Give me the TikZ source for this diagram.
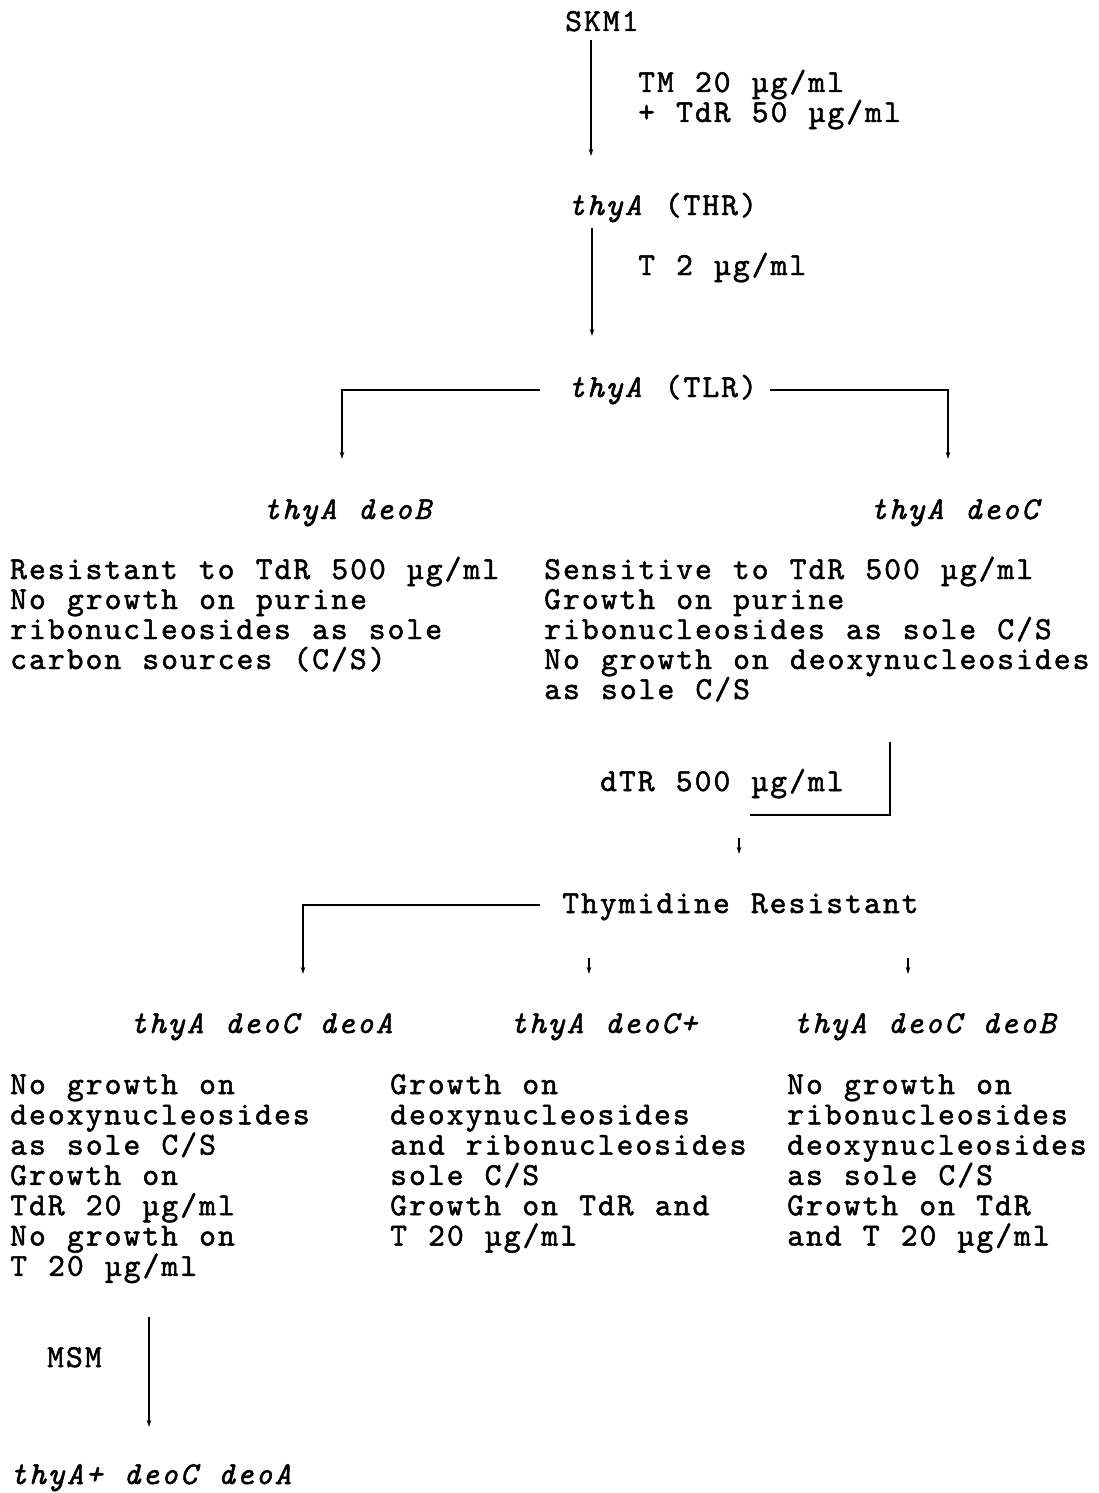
\documentclass[tikz,border=0pt]{standalone}
\usepackage{fontspec}
\usetikzlibrary{arrows.meta}
\newfontfamily\twfam{lmmono10-regular.otf}[ItalicFont=lmmono10-italic.otf,LetterSpace=6.4,WordSpace=1.122,FakeBold=1.5]
\newcommand\tw{\twfam\fontsize{32}{30}\selectfont}
\newcommand\stk[2][30]{\vtop{\baselineskip=#1pt\lineskiplimit=-100pt\lineskip=0pt\halign{##\hfil\cr#2\crcr}}}
\begin{document}
\begin{tikzpicture}[x=1pt,y=-1pt,
  txt/.style={anchor=base west,inner sep=0pt,font=\tw},
  conn/.style={line width=1.6pt,line cap=butt},
  arr/.style={conn,-{Stealth[length=7pt,width=4.5pt]}}]
\useasboundingbox[fill=white] (0,0) rectangle (1099,1493);
% texts
\node[txt] (skm) at (565,31) {SKM1};
\node[txt] (c1) at (638,92) {\stk{TM 20 µg/ml\cr + TdR 50 µg/ml}};
\node[txt] (thr) at (568,215) {\textit{thyA} (THR)};
\node[txt] (c2) at (638,275) {T 2 µg/ml};
\node[txt] (tlr) at (568,397) {\textit{thyA} (TLR)};
\node[txt] (dB) at (263,519) {\textit{thyA deoB}};
\node[txt] (dC) at (870,519) {\textit{thyA deoC}};
\node[txt] (dBt) at (10,579) {\stk{Resistant to TdR 500 µg/ml\cr No growth on purine\cr ribonucleosides as sole\cr carbon sources (C/S)}};
\node[txt] (dCt) at (544,579) {\stk{Sensitive to TdR 500 µg/ml\cr Growth on purine\cr ribonucleosides as sole C/S\cr No growth on deoxynucleosides\cr as sole C/S}};
\node[txt] (c3) at (600,791) {dTR 500 µg/ml};
\node[txt] (tr) at (562,913) {Thymidine Resistant};
\node[txt] (dA) at (130,1033) {\textit{thyA deoC deoA}};
\node[txt] (dCp) at (510,1033) {\textit{thyA deoC+}};
\node[txt] (dCB) at (793,1033) {\textit{thyA deoC deoB}};
\node[txt] (dAt) at (10,1094) {\stk[30.3]{No growth on\cr deoxynucleosides\cr as sole C/S\cr Growth on\cr TdR 20 µg/ml\cr No growth on\cr T 20 µg/ml}};
\node[txt] (dCpt) at (390,1094) {\stk[30.3]{Growth on\cr deoxynucleosides\cr and ribonucleosides\cr sole C/S\cr Growth on TdR and\cr T 20 µg/ml}};
\node[txt] (dCBt) at (787,1094) {\stk[30.3]{No growth on\cr ribonucleosides\cr deoxynucleosides\cr as sole C/S\cr Growth on TdR\cr and T 20 µg/ml}};
\node[txt] (msm) at (47,1367) {MSM};
\node[txt] (final) at (10,1484) {\textit{thyA+ deoC deoA}};
% connector end points
\coordinate (a1s) at (591,40);  \coordinate (a1e) at (591,156);
\coordinate (a2s) at (592,228); \coordinate (a2e) at (592,336);
\coordinate (tlrL) at (540,390); \coordinate (tlrLc) at (342,390); \coordinate (tlrLe) at (342,459);
\coordinate (tlrR) at (770,390); \coordinate (tlrRc) at (948,390); \coordinate (tlrRe) at (948,459);
\coordinate (b3s) at (890,742); \coordinate (b3c) at (890,815); \coordinate (b3e) at (750,815);
\coordinate (a3s) at (739,838); \coordinate (a3e) at (739,854);
\coordinate (trL) at (540,905); \coordinate (trLc) at (303,905); \coordinate (trLe) at (303,974);
\coordinate (a4s) at (589,958); \coordinate (a4e) at (589,974);
\coordinate (a5s) at (908,958); \coordinate (a5e) at (908,974);
\coordinate (a6s) at (149,1317); \coordinate (a6e) at (149,1427);
% connectors
\draw[arr] (a1s) -- (a1e);
\draw[arr] (a2s) -- (a2e);
\draw[arr] (tlrL) -- (tlrLc) -- (tlrLe);
\draw[arr] (tlrR) -- (tlrRc) -- (tlrRe);
\draw[conn] (b3s) -- (b3c) -- (b3e);
\draw[arr] (a3s) -- (a3e);
\draw[arr] (trL) -- (trLc) -- (trLe);
\draw[arr] (a4s) -- (a4e);
\draw[arr] (a5s) -- (a5e);
\draw[arr] (a6s) -- (a6e);
\end{tikzpicture}
\end{document}
